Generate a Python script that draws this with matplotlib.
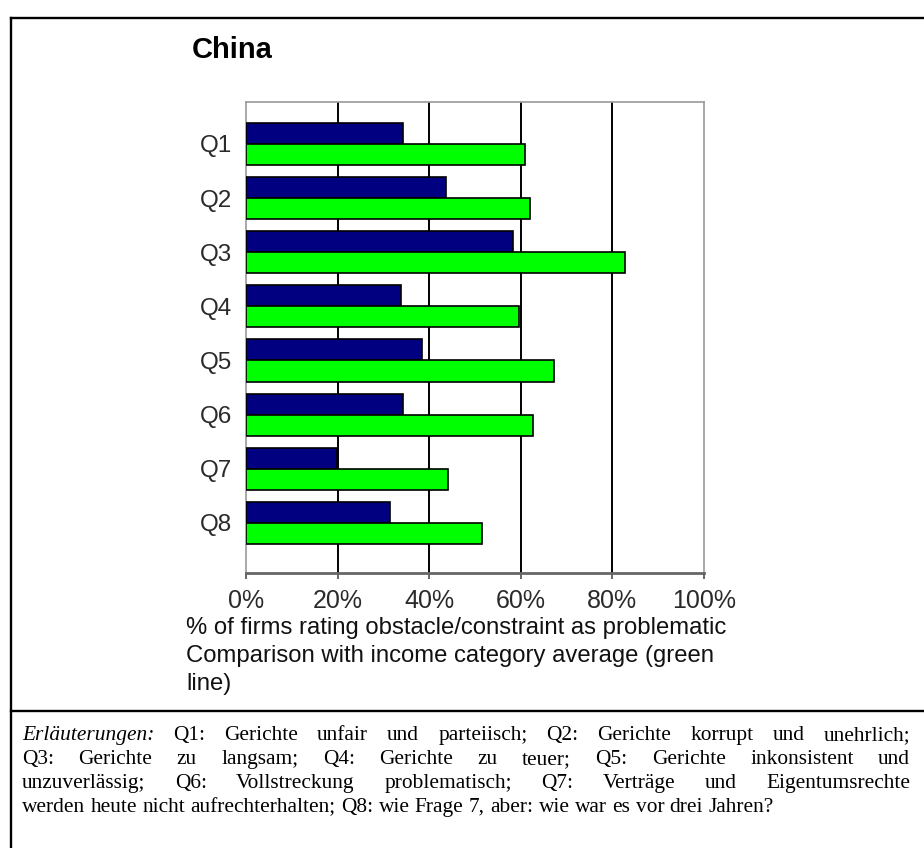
import matplotlib
matplotlib.use('Agg')
import matplotlib.pyplot as plt
from matplotlib.lines import Line2D
from matplotlib.transforms import IdentityTransform
import numpy as np

# ---------------- data ----------------
categories = ['Q1', 'Q2', 'Q3', 'Q4', 'Q5', 'Q6', 'Q7', 'Q8']
china = [34.4, 43.8, 58.3, 33.9, 38.5, 34.4, 19.9, 31.5]
income_avg = [61.0, 62.1, 82.8, 59.7, 67.2, 62.7, 44.2, 51.6]
xtick_values = [0, 20, 40, 60, 80, 100]
xtick_labels = ['0%', '20%', '40%', '60%', '80%', '100%']
chart_title = 'China'
xlabel_lines = ['% of firms rating obstacle/constraint as problematic',
                'Comparison with income category average (green',
                'line)']
footnote_lead = 'Erläuterungen:'
footnote_lines = [
    'Q1: Gerichte unfair und parteiisch; Q2: Gerichte korrupt und unehrlich;',
    'Q3: Gerichte zu langsam; Q4: Gerichte zu teuer; Q5: Gerichte inkonsistent und',
    'unzuverlässig; Q6: Vollstreckung problematisch; Q7: Verträge und Eigentumsrechte',
    'werden heute nicht aufrechterhalten; Q8: wie Frage 7, aber: wie war es vor drei Jahren?',
]

# ---------------- figure ----------------
W, H = 924, 848
fig = plt.figure(figsize=(W / 100, H / 100), dpi=100)
fig.patch.set_facecolor('white')
sans = ['Liberation Sans', 'DejaVu Sans']
serif = ['Liberation Serif', 'DejaVu Serif']

L, R, T, B = 246.0, 703.7, 101.7, 572.7
ax = fig.add_axes([L / W, 1 - B / H, (R - L) / W, (B - T) / H])

y = np.arange(len(categories))
h = 0.39
ax.barh(y - h / 2, china, height=h, color='#000080', edgecolor='black',
        linewidth=1.2, zorder=3)
ax.barh(y + h / 2, income_avg, height=h, color='#00FF00', edgecolor='black',
        linewidth=1.2, zorder=3)
ax.set_xlim(0, 100)
ax.set_ylim(7.92, -0.78)
for v in xtick_values[1:-1]:
    ax.axvline(v, color='black', lw=1.4, zorder=1)

ax.set_yticks(y)
ax.set_yticklabels(categories, fontfamily=sans, fontsize=17.5, color='#2a2a2a')
ax.set_xticks(xtick_values)
ax.set_xticklabels(xtick_labels, fontfamily=sans, fontsize=18, color='#2a2a2a')
ax.tick_params(axis='y', length=0, pad=10)
ax.tick_params(axis='x', length=4.5, width=1.4, color='#666666', pad=7)
for s in ['top', 'right', 'left']:
    ax.spines[s].set_color('#999999')
    ax.spines[s].set_linewidth(1.2)
ax.spines['bottom'].set_color('#666666')
ax.spines['bottom'].set_linewidth(2.0)

fig.text(192 / W, 1 - 58 / H, chart_title, fontfamily=sans, fontsize=21,
         fontweight='bold', va='baseline', ha='left', color='black')

for i, line in enumerate(xlabel_lines):
    fig.text(186 / W, 1 - (634 + 28 * i) / H, line, fontfamily=sans,
             fontsize=17.2, va='baseline', ha='left', color='#111111')

# frame lines
lw_frame = 1.7
fig.add_artist(Line2D([10.5 / W, 10.5 / W], [0, 1 - 17.5 / H],
                      transform=fig.transFigure, color='black', lw=lw_frame))
fig.add_artist(Line2D([10.5 / W, 1], [1 - 17.5 / H, 1 - 17.5 / H],
                      transform=fig.transFigure, color='black', lw=lw_frame))
fig.add_artist(Line2D([10.5 / W, 1], [1 - 711 / H, 1 - 711 / H],
                      transform=fig.transFigure, color='black', lw=lw_frame))

# justified footnote
renderer = fig.canvas.get_renderer()
fs = 15.4
left_px, right_px = 22.0, 910.0
baselines = [740, 764, 788, 812]


def width_of(t):
    return t.get_window_extent(renderer).width


probe1 = fig.text(0, 0, 'n n', fontsize=fs, fontfamily=serif)
probe2 = fig.text(0, 0, 'nn', fontsize=fs, fontfamily=serif)
space_w = width_of(probe1) - width_of(probe2)
probe1.remove()
probe2.remove()

for li, line in enumerate(footnote_lines):
    words = line.split(' ')
    styles = ['normal'] * len(words)
    if li == 0:
        words = [footnote_lead] + words
        styles = ['italic'] + styles
    ypix = H - baselines[li]
    texts = [fig.text(0, ypix, w, fontsize=fs, fontfamily=serif, style=st,
                      va='baseline', ha='left', color='black',
                      transform=IdentityTransform())
             for w, st in zip(words, styles)]
    widths = [width_of(t) for t in texts]
    if li < len(footnote_lines) - 1:
        gap = (right_px - left_px - sum(widths)) / (len(words) - 1)
    else:
        gap = space_w
    x = left_px
    for t, wdt in zip(texts, widths):
        t.set_x(x)
        x += wdt + gap

fig.savefig('out.png', dpi=100, facecolor='white')
